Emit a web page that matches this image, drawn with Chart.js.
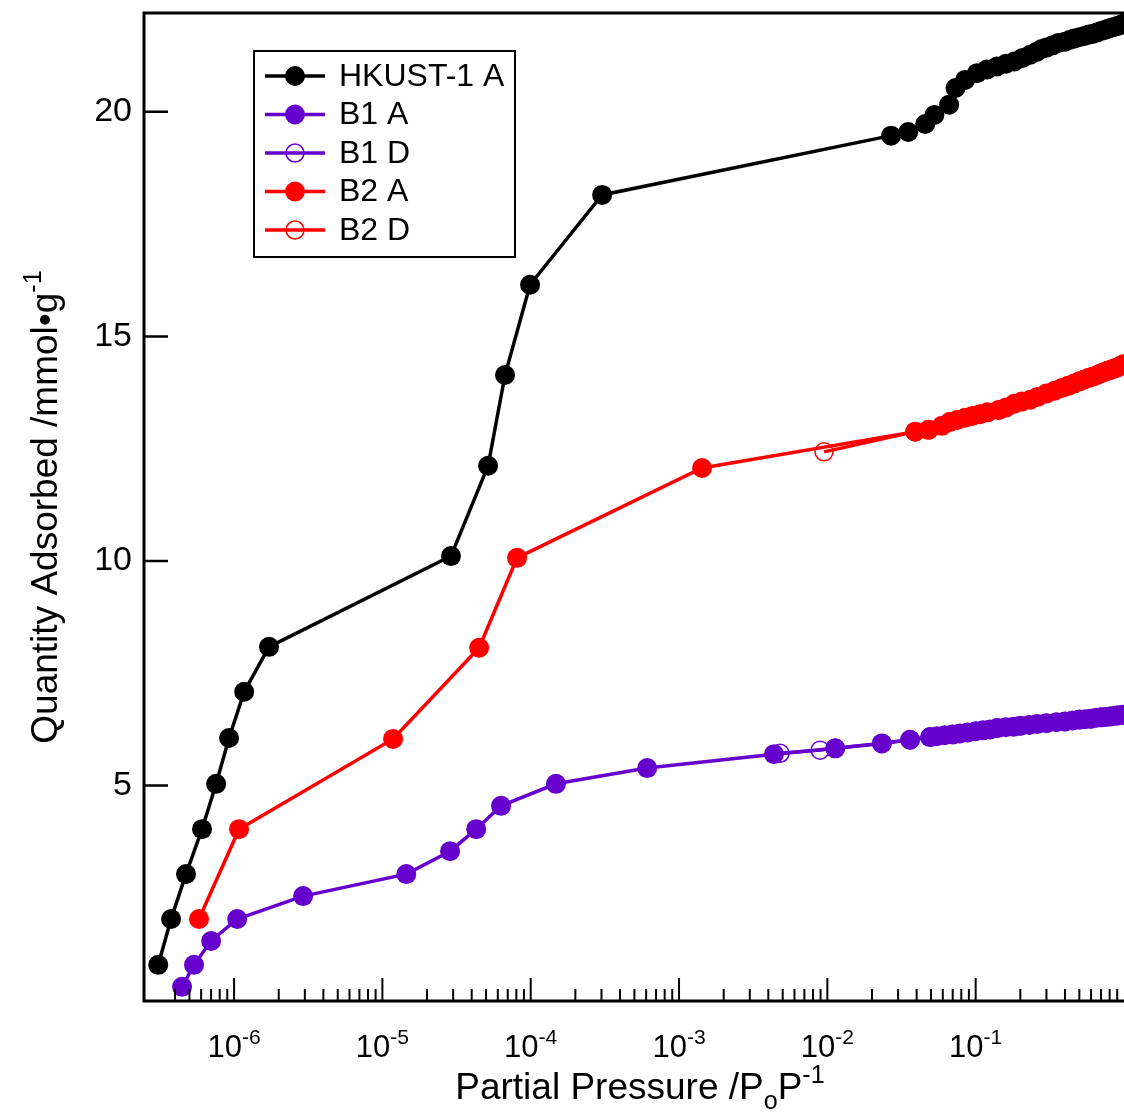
<!DOCTYPE html>
<html>
<head>
<meta charset="utf-8">
<script src="https://cdn.jsdelivr.net/npm/chart.js@4.4.1/dist/chart.umd.min.js"></script>
<style>
html,body{margin:0;padding:0;background:#fff;}
#wrap{width:1124px;height:1113px;position:relative;}
</style>
</head>
<body>
<div id="wrap"><canvas id="c" width="1124" height="1113"></canvas></div>
<script>
// ---------- data ----------
const hkustX = [3.08e-7, 3.76e-7, 4.74e-7, 6.08e-7, 7.57e-7, 9.25e-7, 1.17e-6, 1.72e-6, 2.9e-5, 5.16e-5, 6.71e-5, 9.9e-5, 3.03e-4,
  0.0269, 0.0351, 0.0457, 0.0527, 0.0662, 0.0731, 0.0849, 0.102, 0.119, 0.139, 0.160, 0.182, 0.207, 0.233, 0.256, 0.279,
  0.30, 0.33, 0.36, 0.40, 0.43, 0.46, 0.50, 0.54, 0.58, 0.62, 0.66, 0.70, 0.74, 0.78, 0.82, 0.86, 0.90, 0.94, 0.97, 0.995];
const hkustY = [1.01, 2.03, 3.03, 4.03, 5.04, 6.06, 7.09, 8.09, 10.11, 12.12, 14.14, 16.15, 18.15,
  19.47, 19.55, 19.73, 19.93, 20.16, 20.53, 20.71, 20.86, 20.94, 21.01, 21.07, 21.12, 21.20, 21.27, 21.33, 21.40,
  21.43, 21.48, 21.53, 21.56, 21.60, 21.63, 21.66, 21.69, 21.72, 21.74, 21.77, 21.80, 21.82, 21.85, 21.87, 21.89, 21.91, 21.93, 21.95, 21.96];

const b1aX = [4.46e-7, 5.37e-7, 7.0e-7, 1.05e-6, 2.92e-6, 1.45e-5, 2.86e-5, 4.29e-5, 6.31e-5, 1.48e-4, 6.1e-4, 4.37e-3, 0.0113, 0.0233, 0.0361,
  0.0493, 0.055, 0.062, 0.070, 0.078, 0.088, 0.100, 0.112, 0.125, 0.140, 0.160, 0.180, 0.200, 0.230, 0.260, 0.300, 0.350, 0.400,
  0.450, 0.500, 0.550, 0.600, 0.650, 0.700, 0.750, 0.800, 0.850, 0.900, 0.950, 0.990];
const b1aY = [0.52, 1.01, 1.54, 2.03, 2.54, 3.03, 3.54, 4.03, 4.55, 5.04, 5.39, 5.70, 5.83, 5.94, 6.02,
  6.08, 6.10, 6.12, 6.14, 6.16, 6.18, 6.21, 6.23, 6.25, 6.28, 6.30, 6.31, 6.33, 6.35, 6.37, 6.39, 6.41, 6.43,
  6.45, 6.47, 6.48, 6.49, 6.51, 6.52, 6.53, 6.54, 6.55, 6.56, 6.57, 6.58];

const b1dX = [0.990, 0.900, 0.800, 0.700, 0.600, 0.500, 0.400, 0.300, 0.200, 0.140, 0.100, 0.070, 0.0493, 0.0361, 0.0233, 0.0113, 0.00893, 0.0048];
const b1dY = [6.58, 6.56, 6.54, 6.52, 6.49, 6.47, 6.43, 6.39, 6.33, 6.28, 6.21, 6.14, 6.08, 6.02, 5.94, 5.83, 5.79, 5.72];

const b2aX = [5.8e-7, 1.08e-6, 1.18e-5, 4.49e-5, 8.09e-5, 1.43e-3,
  0.0391, 0.0481, 0.0592, 0.0673, 0.075, 0.085, 0.095, 0.107, 0.120, 0.143, 0.160, 0.182, 0.205, 0.233, 0.260,
  0.300, 0.340, 0.380, 0.420, 0.460, 0.500, 0.540, 0.580, 0.620, 0.660, 0.700, 0.740, 0.780, 0.820, 0.860, 0.900, 0.940, 0.970, 0.995];
const b2aY = [2.03, 4.03, 6.04, 8.07, 10.07, 12.07,
  12.88, 12.92, 13.01, 13.10, 13.14, 13.19, 13.23, 13.27, 13.31, 13.36, 13.42, 13.50, 13.55, 13.59, 13.65,
  13.73, 13.79, 13.85, 13.90, 13.95, 14.00, 14.04, 14.08, 14.11, 14.14, 14.18, 14.21, 14.24, 14.26, 14.29, 14.31, 14.34, 14.36, 14.38];

const b2dX = [0.995, 0.900, 0.780, 0.700, 0.580, 0.500, 0.420, 0.300, 0.205, 0.143, 0.107, 0.0673, 0.0481, 0.0391, 0.0095];
const b2dY = [14.38, 14.31, 14.24, 14.18, 14.08, 14.00, 13.90, 13.73, 13.55, 13.36, 13.27, 13.10, 12.92, 12.88, 12.43];

const seriesLabels = ['HKUST-1 A', 'B1 A', 'B1 D', 'B2 A', 'B2 D'];

const xMajorTicks = [1e-6, 1e-5, 1e-4, 1e-3, 1e-2, 1e-1];
const xTickBase = '10';
const xTickExponents = ['-6', '-5', '-4', '-3', '-2', '-1'];
const xMinorStart = 4e-7;
const yTicks = [5, 10, 15, 20];
const yTickLabels = ['5', '10', '15', '20'];

// rich-text titles: [text, kind] kind 0 = normal, 1 = superscript, -1 = subscript
const xTitleParts = [['Partial Pressure /P', 0], ['o', -1], ['P', 0], ['-1', 1]];
const yTitleParts = [['Quantity Adsorbed /mmol\u2022g', 0], ['-1', 1]];

// ---------- styling ----------
const FONT = "'Liberation Sans', Arial, Helvetica, sans-serif";
const BLACK = '#000000', PURPLE = 'rgb(102,0,204)', RED = 'rgb(255,0,0)';
const TICK_FONT = 31, Y_TICK_FONT = 34, TITLE_FONT = 37, LEGEND_FONT = 32;

const pts = (xs, ys) => xs.map((x, i) => ({x: x, y: ys[i]}));

function filledSet(label, xs, ys, color) {
  return {label, data: pts(xs, ys), borderColor: color, backgroundColor: color,
    pointBackgroundColor: color, pointBorderColor: color, pointBorderWidth: 0, pointRadius: 10,
    borderWidth: 3.5, tension: 0, fill: false, _filled: true};
}
function openSet(label, xs, ys, color) {
  return {label, data: pts(xs, ys), borderColor: color, backgroundColor: 'rgba(0,0,0,0)',
    pointBackgroundColor: 'rgba(0,0,0,0)', pointBorderColor: color, pointBorderWidth: 1.5, pointRadius: 9,
    borderWidth: 3.5, tension: 0, fill: false, _filled: false};
}

const minorTicks = [];
for (let d = -7; d <= -1; d++) {
  for (let m = 2; m <= 9; m++) {
    const v = m * Math.pow(10, d);
    if (v >= xMinorStart * 0.999 && v < 1) minorTicks.push(v);
  }
}

function drawRich(ctx, parts, F, x, y, rotation, align) {
  ctx.save();
  ctx.translate(x, y);
  ctx.rotate(rotation);
  ctx.textBaseline = 'alphabetic';
  ctx.textAlign = 'left';
  let total = 0;
  const widths = parts.map(p => {
    ctx.font = (p[1] ? F * 0.68 : F) + 'px ' + FONT;
    const w = ctx.measureText(p[0]).width;
    total += w;
    return w;
  });
  let cx = align === 'center' ? -total / 2 : 0;
  parts.forEach((p, i) => {
    ctx.font = (p[1] ? F * 0.68 : F) + 'px ' + FONT;
    const dy = p[1] === 1 ? -F * 0.42 : (p[1] === -1 ? F * 0.26 : 0);
    ctx.fillText(p[0], cx, dy);
    cx += widths[i];
  });
  ctx.restore();
}

const axesPlugin = {
  id: 'igorAxes',
  afterDatasetsDraw(chart) {
    const {ctx, chartArea: ca, scales} = chart;
    ctx.save();
    ctx.strokeStyle = '#000';
    ctx.fillStyle = '#000';
    ctx.lineCap = 'butt';
    ctx.lineWidth = 3;
    ctx.beginPath();
    ctx.moveTo(ca.left, ca.top - 1.5); ctx.lineTo(ca.left, ca.bottom + 1.5);
    ctx.moveTo(ca.left, ca.top); ctx.lineTo(ca.right, ca.top);
    ctx.moveTo(ca.left, ca.bottom); ctx.lineTo(ca.right, ca.bottom);
    ctx.stroke();
    ctx.lineWidth = 2.5;
    ctx.beginPath();
    yTicks.forEach(v => {
      const py = scales.y.getPixelForValue(v);
      ctx.moveTo(ca.left, py); ctx.lineTo(ca.left + 24, py);
    });
    ctx.stroke();
    ctx.lineWidth = 2;
    ctx.beginPath();
    xMajorTicks.forEach(v => {
      const px = scales.x.getPixelForValue(v);
      ctx.moveTo(px, ca.bottom); ctx.lineTo(px, ca.bottom - 23);
    });
    minorTicks.forEach(v => {
      const px = scales.x.getPixelForValue(v);
      ctx.moveTo(px, ca.bottom); ctx.lineTo(px, ca.bottom - 12);
    });
    ctx.stroke();
    // x tick labels with superscript exponents
    xMajorTicks.forEach((v, i) => {
      const px = scales.x.getPixelForValue(v);
      drawRich(ctx, [[xTickBase, 0], [xTickExponents[i], 1]], TICK_FONT, px, ca.bottom + 56, 0, 'center');
    });
    // axis titles
    drawRich(ctx, xTitleParts, TITLE_FONT, (ca.left + ca.right) / 2 + 6, 1099, 0, 'center');
    drawRich(ctx, yTitleParts, TITLE_FONT, 57, (ca.top + ca.bottom) / 2, -Math.PI / 2, 'center');
    ctx.restore();
  }
};

const legendPlugin = {
  id: 'boxLegend',
  afterDraw(chart) {
    const ctx = chart.ctx;
    ctx.save();
    ctx.fillStyle = '#fff';
    ctx.fillRect(254, 51, 261, 206);
    ctx.strokeStyle = '#000';
    ctx.lineWidth = 2;
    ctx.strokeRect(254, 51, 261, 206);
    chart.data.datasets.forEach((ds, i) => {
      const y = 76 + i * 38.5;
      ctx.strokeStyle = ds.borderColor;
      ctx.lineWidth = 3.5;
      ctx.beginPath(); ctx.moveTo(265, y); ctx.lineTo(325, y); ctx.stroke();
      ctx.beginPath();
      ctx.arc(295, y, ds.pointRadius, 0, Math.PI * 2);
      if (ds._filled) { ctx.fillStyle = ds.pointBackgroundColor; ctx.fill(); }
      else { ctx.lineWidth = ds.pointBorderWidth; ctx.strokeStyle = ds.pointBorderColor; ctx.stroke(); }
      ctx.fillStyle = '#000';
      ctx.font = LEGEND_FONT + 'px ' + FONT;
      ctx.textBaseline = 'middle';
      ctx.textAlign = 'left';
      ctx.fillText(ds.label, 339, y + 1);
    });
    ctx.restore();
  }
};

new Chart(document.getElementById('c'), {
  type: 'line',
  data: {
    datasets: [
      filledSet(seriesLabels[0], hkustX, hkustY, BLACK),
      filledSet(seriesLabels[1], b1aX, b1aY, PURPLE),
      openSet(seriesLabels[2], b1dX, b1dY, PURPLE),
      filledSet(seriesLabels[3], b2aX, b2aY, RED),
      openSet(seriesLabels[4], b2dX, b2dY, RED)
    ]
  },
  options: {
    responsive: false,
    animation: false,
    events: [],
    layout: {autoPadding: false, padding: {top: 13, left: 0, right: 0, bottom: 0}},
    plugins: {legend: {display: false}, tooltip: {enabled: false}},
    scales: {
      x: {
        type: 'logarithmic', position: 'bottom', min: 2.47e-7, max: 1,
        grid: {display: false, drawTicks: false}, border: {display: false},
        afterBuildTicks: s => { s.ticks = xMajorTicks.map(v => ({value: v})); },
        afterFit: s => { s.height = 112; s.paddingLeft = 0; s.paddingRight = 0; },
        ticks: {display: false, autoSkip: false, maxRotation: 0, minRotation: 0},
        title: {display: false}
      },
      y: {
        type: 'linear', position: 'left', min: 0.205, max: 22.2,
        grid: {display: false, drawTicks: false}, border: {display: false},
        afterBuildTicks: s => { s.ticks = yTicks.map(v => ({value: v})); },
        afterFit: s => { s.width = 144; s.paddingTop = 0; s.paddingBottom = 0; },
        ticks: {
          autoSkip: false, padding: 12, color: '#000',
          font: {size: Y_TICK_FONT, family: FONT},
          callback: (v, i) => yTickLabels[i]
        },
        title: {display: false}
      }
    }
  },
  plugins: [axesPlugin, legendPlugin]
});
</script>
</body>
</html>
